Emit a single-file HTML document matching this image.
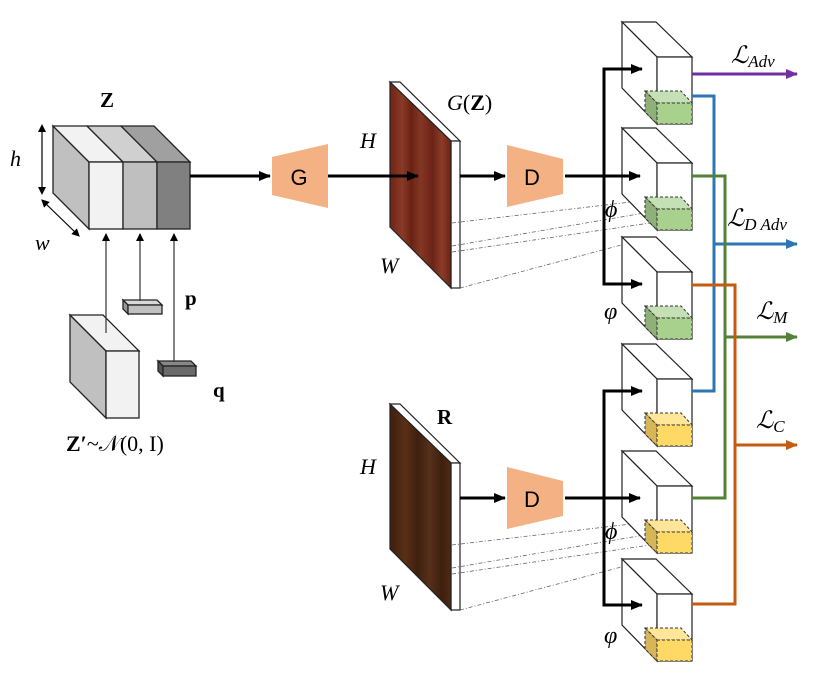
<!DOCTYPE html>
<html><head><meta charset="utf-8"><style>
html,body{margin:0;padding:0;background:#fff;width:831px;height:677px;overflow:hidden}
svg{display:block}
text{font-family:"Liberation Serif","DejaVu Serif",serif}
</style></head><body>
<svg width="831" height="677" viewBox="0 0 831 677" xmlns="http://www.w3.org/2000/svg">
<defs>
<marker id="ak" markerWidth="8" markerHeight="8" refX="7" refY="4" orient="auto" markerUnits="userSpaceOnUse"><path d="M0,0 L8,4 L0,8z" fill="#000"/></marker>
<marker id="ak2" markerWidth="12" markerHeight="10" refX="11" refY="5" orient="auto" markerUnits="userSpaceOnUse"><path d="M0,0 L12,5 L0,10z" fill="#000"/></marker>
<marker id="ap" markerWidth="12" markerHeight="10" refX="11" refY="5" orient="auto" markerUnits="userSpaceOnUse"><path d="M0,0 L12,5 L0,10z" fill="#7030a0"/></marker>
<marker id="ab" markerWidth="12" markerHeight="10" refX="11" refY="5" orient="auto" markerUnits="userSpaceOnUse"><path d="M0,0 L12,5 L0,10z" fill="#2e75b6"/></marker>
<marker id="ag" markerWidth="12" markerHeight="10" refX="11" refY="5" orient="auto" markerUnits="userSpaceOnUse"><path d="M0,0 L12,5 L0,10z" fill="#538135"/></marker>
<marker id="ao" markerWidth="12" markerHeight="10" refX="11" refY="5" orient="auto" markerUnits="userSpaceOnUse"><path d="M0,0 L12,5 L0,10z" fill="#c55a11"/></marker>
<marker id="as" markerWidth="8" markerHeight="8" refX="4" refY="4" orient="auto-start-reverse" markerUnits="userSpaceOnUse"><path d="M0,0 L8,4 L0,8z" fill="#000"/></marker>
<linearGradient id="w1" x1="0" x2="1" y1="0" y2="0">
<stop offset="0" stop-color="#6e2416"/><stop offset="0.2" stop-color="#8a3a26"/><stop offset="0.35" stop-color="#6a2214"/><stop offset="0.5" stop-color="#853624"/><stop offset="0.7" stop-color="#6c2417"/><stop offset="0.85" stop-color="#8b3b27"/><stop offset="1" stop-color="#6a2315"/></linearGradient>
<linearGradient id="w2" x1="0" x2="1" y1="0" y2="0">
<stop offset="0" stop-color="#3d1e0e"/><stop offset="0.25" stop-color="#5a2f16"/><stop offset="0.45" stop-color="#3f200f"/><stop offset="0.65" stop-color="#56301a"/><stop offset="0.85" stop-color="#3e1f0f"/><stop offset="1" stop-color="#4f2a14"/></linearGradient>
</defs>

<g stroke="#222" stroke-width="1.3">
<polygon points="53,126 89,162 89,229 53,193" fill="#c0c0c0"/>
<polygon points="53,126 87,126 123,162 89,162" fill="#f2f2f2"/>
<polygon points="87,126 121,126 157,162 123,162" fill="#d0d0d0"/>
<polygon points="121,126 154,126 190,162 157,162" fill="#a0a0a0"/>
<rect x="89" y="162" width="34" height="67" fill="#f2f2f2"/>
<rect x="123" y="162" width="34" height="67" fill="#bfbfbf"/>
<rect x="157" y="162" width="33" height="67" fill="#808080"/>
</g>
<text x="100" y="107" font-size="21" font-weight="bold">Z</text>
<line x1="42" y1="128" x2="42" y2="191" stroke="#000" stroke-width="1.2" marker-start="url(#as)" marker-end="url(#as)"/>
<line x1="44" y1="202" x2="77" y2="234" stroke="#000" stroke-width="1.2" marker-start="url(#as)" marker-end="url(#as)"/>
<text x="10" y="166" font-size="22" font-style="italic">h</text>
<text x="35" y="250" font-size="22" font-style="italic">w</text>

<g stroke="#222" stroke-width="1.3">
<polygon points="70,315 106,351 106,418 70,382" fill="#c0c0c0"/>
<polygon points="70,315 103,315 139,351 106,351" fill="#f2f2f2"/>
<rect x="106" y="351" width="33" height="67" fill="#f2f2f2"/>
<polygon points="123,300 157,300 162,305 128,305" fill="#d8d8d8"/>
<polygon points="123,300 128,305 128,314 123,309" fill="#999"/>
<rect x="128" y="305" width="34" height="9" fill="#c0c0c0"/>
<polygon points="158,361 191,361 196,366 163,366" fill="#888"/>
<polygon points="158,361 163,366 163,376 158,371" fill="#555"/>
<rect x="163" y="366" width="33" height="10" fill="#6a6a6a"/>
</g>
<g stroke="#333" stroke-width="1.2">
<line x1="106" y1="333" x2="106" y2="234" marker-end="url(#ak)"/>
<line x1="140" y1="301" x2="140" y2="234" marker-end="url(#ak)"/>
<line x1="174" y1="362" x2="174" y2="234" marker-end="url(#ak)"/>
</g>
<text x="185" y="305" font-size="21" font-weight="bold">p</text>
<text x="213" y="397" font-size="21" font-weight="bold">q</text>
<text x="66" y="451" font-size="22"><tspan font-weight="bold">Z′</tspan>~𝒩(0, I)</text>

<polygon points="272,157 328,144 328,208 272,195" fill="#f4b183"/>
<text x="299" y="185" font-size="22" text-anchor="middle" style="font-family:'Liberation Sans',sans-serif">G</text>
<polygon points="507,145 563,159 563,194 507,207" fill="#f4b183"/>
<text x="532" y="185" font-size="22" text-anchor="middle" style="font-family:'Liberation Sans',sans-serif">D</text>
<polygon points="507,467 563,481 563,516 507,529" fill="#f4b183"/>
<text x="532" y="507" font-size="22" text-anchor="middle" style="font-family:'Liberation Sans',sans-serif">D</text>

<g stroke="#222" stroke-width="1.2">
<polygon points="390,82 400,82 460,141 451,141" fill="#fff"/>
<rect x="451" y="141" width="9" height="147" fill="#fff"/>
<polygon points="390,82 451,141 451,288 390,227" fill="url(#w1)"/>
<polygon points="390,404 400,404 460,463 451,463" fill="#fff"/>
<rect x="451" y="463" width="9" height="147" fill="#fff"/>
<polygon points="390,404 451,463 451,610 390,549" fill="url(#w2)"/>
</g>
<text x="360" y="148" font-size="22" font-style="italic">H</text>
<text x="380" y="273" font-size="22" font-style="italic">W</text>
<text x="447" y="110" font-size="22"><tspan font-style="italic">G</tspan>(<tspan font-weight="bold">Z</tspan>)</text>
<text x="437" y="424" font-size="21" font-weight="bold">R</text>
<text x="360" y="474" font-size="22" font-style="italic">H</text>
<text x="380" y="600" font-size="22" font-style="italic">W</text>

<g stroke="#666" stroke-width="0.8" stroke-dasharray="4,2,1,2" fill="none">
<line x1="452" y1="223" x2="648" y2="200"/>
<line x1="452" y1="246" x2="650" y2="212"/>
<line x1="452" y1="252" x2="657" y2="222"/>
<line x1="460" y1="288" x2="640" y2="240"/>
<line x1="452" y1="545" x2="648" y2="522"/>
<line x1="452" y1="568" x2="650" y2="534"/>
<line x1="452" y1="574" x2="657" y2="544"/>
<line x1="460" y1="610" x2="640" y2="562"/>
</g>

<g stroke="#000" stroke-width="3" fill="none">
<line x1="190" y1="176" x2="270" y2="176" marker-end="url(#ak2)"/>
<line x1="328" y1="176" x2="418" y2="176" marker-end="url(#ak2)"/>
<line x1="460" y1="176" x2="505" y2="176" marker-end="url(#ak2)"/>
<line x1="460" y1="498" x2="505" y2="498" marker-end="url(#ak2)"/>
</g>

<g stroke="#222" stroke-width="1.2" fill="#fff">
<g transform="translate(0,0)"><polygon points="622,22 656,22 692,57 657,57"/><polygon points="622,22 657,57 657,124 622,88"/><rect x="657" y="57" width="35" height="67"/></g>
<g transform="translate(0,106)"><polygon points="622,22 656,22 692,57 657,57"/><polygon points="622,22 657,57 657,124 622,88"/><rect x="657" y="57" width="35" height="67"/></g>
<g transform="translate(0,215)"><polygon points="622,22 656,22 692,57 657,57"/><polygon points="622,22 657,57 657,124 622,88"/><rect x="657" y="57" width="35" height="67"/></g>
<g transform="translate(0,322)"><polygon points="622,22 656,22 692,57 657,57"/><polygon points="622,22 657,57 657,124 622,88"/><rect x="657" y="57" width="35" height="67"/></g>
<g transform="translate(0,429)"><polygon points="622,22 656,22 692,57 657,57"/><polygon points="622,22 657,57 657,124 622,88"/><rect x="657" y="57" width="35" height="67"/></g>
<g transform="translate(0,537)"><polygon points="622,22 656,22 692,57 657,57"/><polygon points="622,22 657,57 657,124 622,88"/><rect x="657" y="57" width="35" height="67"/></g>
</g>
<g stroke="#333" stroke-width="1" stroke-dasharray="3,2">
<g transform="translate(0,0)"><polygon points="645,91 681,91 692,103 657,103" fill="#c5e0b4"/><polygon points="645,91 657,103 657,124 645,112" fill="#8fb078"/><rect x="657" y="103" width="35" height="21" fill="#a9d18e"/></g>
<g transform="translate(0,106)"><polygon points="645,91 681,91 692,103 657,103" fill="#c5e0b4"/><polygon points="645,91 657,103 657,124 645,112" fill="#8fb078"/><rect x="657" y="103" width="35" height="21" fill="#a9d18e"/></g>
<g transform="translate(0,215)"><polygon points="645,91 681,91 692,103 657,103" fill="#c5e0b4"/><polygon points="645,91 657,103 657,124 645,112" fill="#8fb078"/><rect x="657" y="103" width="35" height="21" fill="#a9d18e"/></g>
<g transform="translate(0,322)"><polygon points="645,91 681,91 692,103 657,103" fill="#ffe699"/><polygon points="645,91 657,103 657,124 645,112" fill="#d6b656"/><rect x="657" y="103" width="35" height="21" fill="#ffd966"/></g>
<g transform="translate(0,429)"><polygon points="645,91 681,91 692,103 657,103" fill="#ffe699"/><polygon points="645,91 657,103 657,124 645,112" fill="#d6b656"/><rect x="657" y="103" width="35" height="21" fill="#ffd966"/></g>
<g transform="translate(0,537)"><polygon points="645,91 681,91 692,103 657,103" fill="#ffe699"/><polygon points="645,91 657,103 657,124 645,112" fill="#d6b656"/><rect x="657" y="103" width="35" height="21" fill="#ffd966"/></g>
</g>

<g stroke="#000" stroke-width="3" fill="none">
<polyline points="640,69 604,69 604,284 640,284" />
<line x1="565" y1="176" x2="640" y2="176" marker-end="url(#ak2)"/>
<line x1="604" y1="69" x2="642" y2="69" marker-end="url(#ak2)"/>
<line x1="604" y1="284" x2="642" y2="284" marker-end="url(#ak2)"/>
<polyline points="640,391 604,391 604,605 640,605"/>
<line x1="565" y1="498" x2="640" y2="498" marker-end="url(#ak2)"/>
<line x1="604" y1="391" x2="642" y2="391" marker-end="url(#ak2)"/>
<line x1="604" y1="605" x2="642" y2="605" marker-end="url(#ak2)"/>
</g>
<text x="605" y="217" font-size="24" font-style="italic">ϕ</text>
<text x="604" y="319" font-size="24" font-style="italic">φ</text>
<text x="605" y="539" font-size="24" font-style="italic">ϕ</text>
<text x="604" y="643" font-size="24" font-style="italic">φ</text>

<g stroke-width="3" fill="none">
<line x1="692" y1="74" x2="797" y2="74" stroke="#7030a0" marker-end="url(#ap)"/>
<polyline points="692,96 714,96 714,391 692,391" stroke="#2e75b6"/>
<line x1="714" y1="244" x2="797" y2="244" stroke="#2e75b6" marker-end="url(#ab)"/>
<polyline points="692,176 725,176 725,498 692,498" stroke="#538135"/>
<line x1="725" y1="337" x2="797" y2="337" stroke="#538135" marker-end="url(#ag)"/>
<polyline points="692,285 735,285 735,604 692,604" stroke="#c55a11"/>
<line x1="735" y1="445" x2="797" y2="445" stroke="#c55a11" marker-end="url(#ao)"/>
</g>
<text x="731" y="63" font-size="24" font-style="italic">ℒ<tspan font-size="17" dy="4">Adv</tspan></text>
<text x="727" y="226" font-size="24" font-style="italic">ℒ<tspan font-size="17" dy="4">D Adv</tspan></text>
<text x="756" y="319" font-size="24" font-style="italic">ℒ<tspan font-size="17" dy="4">M</tspan></text>
<text x="756" y="428" font-size="24" font-style="italic">ℒ<tspan font-size="17" dy="4">C</tspan></text>
</svg>
</body></html>
